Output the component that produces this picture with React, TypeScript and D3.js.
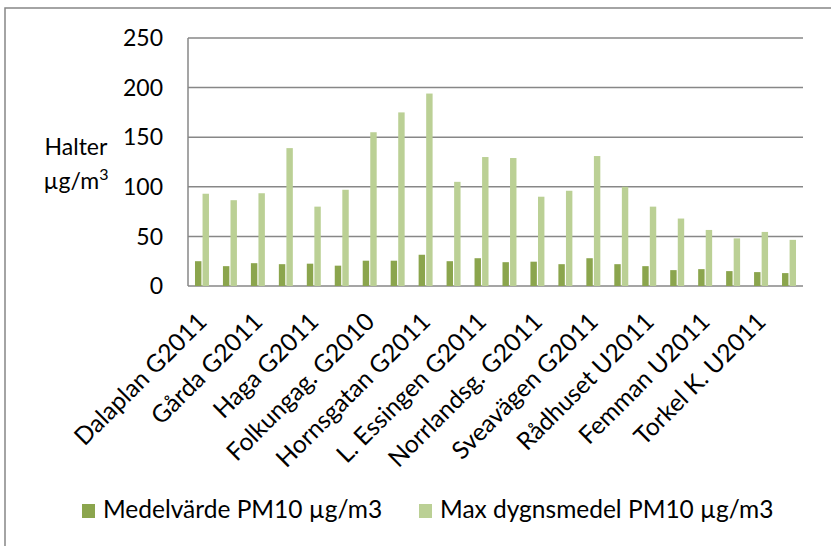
import * as d3 from "d3";
import { useEffect, useRef } from "react";

// station names (every other one is shown on the axis, like Excel does)
const categories = [
  "Dalaplan G2011",
  "Amiralsgatan G2011",
  "Gårda G2011",
  "Kungsgatan G2011",
  "Haga G2011",
  "Essingeleden G2011",
  "Folkungag. G2010",
  "Hornsgatan G2010",
  "Hornsgatan G2011",
  "Göteborgsv. G2011",
  "L. Essingen G2011",
  "Norra Länken G2011",
  "Norrlandsg. G2011",
  "Sveavägen G2010",
  "Sveavägen G2011",
  "Lilla Torg U2011",
  "Rådhuset U2011",
  "Rosenlund U2011",
  "Femman U2011",
  "Torkel K. U2010",
  "Torkel K. U2011",
  "Östra Hamng. U2011",
];

const medelvarde = [
  25, 20, 23, 22, 22.5, 20.5, 25.5, 25.5, 31.5, 25, 28, 24, 24.5, 22, 28, 22,
  20, 16, 17, 15, 14, 13,
];

const maxDygnsmedel = [
  93, 86.5, 93.5, 139, 80, 97, 155, 175, 194, 105, 130, 129, 90, 96, 131, 100,
  80, 68, 56.5, 48, 54.5, 46.5,
];

const yTicks = [0, 50, 100, 150, 200, 250];

const seriesNames = ["Medelvärde PM10 µg/m3", "Max dygnsmedel PM10 µg/m3"];
const colors = ["#8ba54d", "#bbd095"];

const FONT = "Lato, 'Open Sans', sans-serif";
const GRID = "#878787";

export default function App() {
  const ref = useRef<SVGSVGElement>(null);

  useEffect(() => {
    const svg = d3.select(ref.current);
    svg.selectAll("*").remove();

    const W = 831,
      H = 546;
    const plot = { left: 188, right: 803, top: 38, bottom: 286 };

    // outer chart border (runs off the right/bottom edge)
    svg
      .append("rect")
      .attr("x", 5)
      .attr("y", 8)
      .attr("width", W + 20)
      .attr("height", H + 20)
      .attr("fill", "#fff")
      .attr("stroke", GRID)
      .attr("stroke-width", 1.5);

    const x = d3
      .scaleBand()
      .domain(categories)
      .range([plot.left, plot.right])
      .paddingInner(0.5)
      .paddingOuter(0.25);

    const x1 = d3
      .scaleBand<number>()
      .domain([0, 1])
      .range([0, x.bandwidth()])
      .paddingInner(0.15);

    const y = d3.scaleLinear().domain([0, 250]).range([plot.bottom, plot.top]);

    // gridlines
    svg
      .append("g")
      .selectAll("line")
      .data(yTicks)
      .enter()
      .append("line")
      .attr("x1", plot.left)
      .attr("x2", plot.right)
      .attr("y1", (d) => y(d))
      .attr("y2", (d) => y(d))
      .attr("stroke", GRID)
      .attr("stroke-width", 1.5);

    // left axis line
    svg
      .append("line")
      .attr("x1", plot.left)
      .attr("x2", plot.left)
      .attr("y1", plot.top)
      .attr("y2", plot.bottom)
      .attr("stroke", GRID)
      .attr("stroke-width", 1.5);

    // tick labels
    svg
      .append("g")
      .selectAll("text")
      .data(yTicks)
      .enter()
      .append("text")
      .attr("x", 163)
      .attr("y", (d) => y(d))
      .attr("dy", "0.36em")
      .attr("text-anchor", "end")
      .attr("font-family", FONT)
      .attr("font-size", 23)
      .attr("fill", "#000")
      .text((d) => d);

    // axis title
    const title = svg
      .append("text")
      .attr("font-family", FONT)
      .attr("font-size", 23)
      .attr("text-anchor", "middle")
      .attr("fill", "#000");
    title.append("tspan").attr("x", 76).attr("y", 155).text("Halter");
    const unit = title.append("tspan").attr("x", 76).attr("y", 189);
    unit.append("tspan").text("µg/m");
    unit
      .append("tspan")
      .attr("font-size", 16)
      .attr("dy", -9)
      .text("3");

    // bars
    const series = [medelvarde, maxDygnsmedel];
    series.forEach((vals, si) => {
      svg
        .append("g")
        .selectAll("rect")
        .data(vals)
        .enter()
        .append("rect")
        .attr("x", (_, i) => (x(categories[i]) ?? 0) + (x1(si) ?? 0))
        .attr("y", (d) => y(d))
        .attr("width", x1.bandwidth())
        .attr("height", (d) => y(0) - y(d))
        .attr("fill", colors[si]);
    });

    // category labels, every second one
    svg
      .append("g")
      .selectAll("text")
      .data(categories.filter((_, i) => i % 2 === 0))
      .enter()
      .append("text")
      .attr(
        "transform",
        (d) => `translate(${(x(d) ?? 0) + x.bandwidth() / 2},317) rotate(-45)`
      )
      .attr("dy", "0.36em")
      .attr("text-anchor", "end")
      .attr("font-family", FONT)
      .attr("font-size", 24.5)
      .attr("fill", "#000")
      .text((d) => d);

    // legend
    const legendX = [82, 419];
    seriesNames.forEach((name, i) => {
      svg
        .append("rect")
        .attr("x", legendX[i])
        .attr("y", 504)
        .attr("width", 13)
        .attr("height", 14)
        .attr("fill", colors[i]);
      svg
        .append("text")
        .attr("x", legendX[i] + 21)
        .attr("y", 518)
        .attr("font-family", FONT)
        .attr("font-size", 24.5)
        .attr("fill", "#000")
        .text(name);
    });
  }, []);

  return (
    <svg
      ref={ref}
      width={831}
      height={546}
      style={{ position: "absolute", left: 0, top: 0, background: "#fff" }}
    />
  );
}
